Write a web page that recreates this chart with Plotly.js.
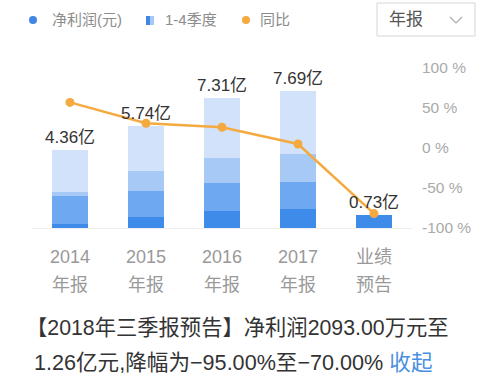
<!DOCTYPE html>
<html>
<head>
<meta charset="utf-8">
<script src="https://cdn.plot.ly/plotly-3.0.1.min.js"></script>
<style>
  html, body { margin: 0; padding: 0; background: #fff; }
  #chart { width: 500px; height: 381px; }
</style>
</head>
<body>
<div id="chart"></div>
<script>
// ---- data ----
const categories = ['2014', '2015', '2016', '2017', '业绩'];
const categoryLine2 = ['年报', '年报', '年报', '年报', '预告'];
const q1 = [0.22, 0.62, 0.96, 1.07, 0.73];
const q2 = [1.58, 1.46, 1.58, 1.52, null];
const q3 = [0.24, 1.13, 1.41, 1.58, null];
const q4 = [2.32, 2.53, 3.36, 3.52, null];
const totals = [4.36, 5.74, 7.31, 7.69, 0.73];
const growth = [57, 31, 26, 5, -82];
const rightTickVals = [100, 50, 0, -50, -100];
const rightTickText = ['100 %', '50 %', '0 %', '-50 %', '-100 %'];
const legendLabels = ['净利润(元)', '1-4季度', '同比'];
const dropdownLabel = '年报';
const noteLine1 = '【2018年三季报预告】净利润2093.00万元至';
const noteLine2 = '1.26亿元,降幅为−95.00%至−70.00% ';
const noteLink = '收起';

// ---- styling ----
const FONT = 'Liberation Sans, Arial, "Noto Sans CJK SC", sans-serif';
const qColors = ['#3f8be9', '#6ea8f0', '#a6c9f5', '#d1e2fa'];
const lineColor = '#f5aa40';

// pixel helpers (plot area: x 32..412, y 68..228)
const L = 32, R = 412, T = 68, B = 228;
const px = x => (x - L) / (R - L);
const py = y => (B - y) / (B - T);

const barW = 0.47;
const mkBar = (vals, color) => ({
  type: 'bar', x: categories, y: vals, width: barW,
  marker: { color: color, line: { width: 0 } },
  hoverinfo: 'skip', yaxis: 'y'
});

const traces = [
  mkBar(q1, qColors[0]),
  mkBar(q2, qColors[1]),
  mkBar(q3, qColors[2]),
  mkBar(q4, qColors[3]),
  {
    type: 'scatter', mode: 'lines+markers', x: categories, y: growth,
    yaxis: 'y2', line: { color: lineColor, width: 2.5 },
    marker: { color: lineColor, size: 9 }, hoverinfo: 'skip'
  }
];

const annotations = [];
// totals above bars (category index used as x position on the category axis)
categories.forEach((c, i) => {
  annotations.push({
    x: i, y: totals[i], xref: 'x', yref: 'y', yanchor: 'bottom',
    text: totals[i].toFixed(2) + '亿', showarrow: false, yshift: 1,
    font: { family: FONT, size: 17, color: '#333' }
  });
  annotations.push({
    x: i, y: py(285), xref: 'x', yref: 'paper', yanchor: 'middle',
    text: categoryLine2[i], showarrow: false,
    font: { family: FONT, size: 18, color: '#999' }
  });
});
// legend texts
const legendX = [50, 163, 258];
legendLabels.forEach((t, i) => {
  annotations.push({
    x: px(legendX[i]), y: py(20), xref: 'paper', yref: 'paper',
    xanchor: 'left', yanchor: 'middle', text: t, showarrow: false,
    font: { family: FONT, size: 15, color: '#8c8c8c' }
  });
});
// dropdown label
annotations.push({
  x: px(387), y: py(20), xref: 'paper', yref: 'paper',
  xanchor: 'left', yanchor: 'middle', text: dropdownLabel, showarrow: false,
  font: { family: FONT, size: 17, color: '#555' }
});
// bottom note
annotations.push({
  x: px(24), y: py(328), xref: 'paper', yref: 'paper',
  xanchor: 'left', yanchor: 'middle', text: noteLine1, showarrow: false,
  font: { family: FONT, size: 21.3, color: '#333' }
});
annotations.push({
  x: px(32), y: py(362), xref: 'paper', yref: 'paper',
  xanchor: 'left', yanchor: 'middle',
  text: noteLine2 + '<span style="color:#4a8fe0">' + noteLink + '</span>',
  showarrow: false,
  font: { family: FONT, size: 21.6, color: '#333' }
});

const shapes = [
  // legend blue dot
  { type: 'circle', xref: 'paper', yref: 'paper',
    x0: px(29), x1: px(37), y0: py(24), y1: py(16),
    fillcolor: '#3f86e6', line: { width: 0 } },
  // legend gradient rect (two halves)
  { type: 'rect', xref: 'paper', yref: 'paper',
    x0: px(146), x1: px(150), y0: py(25), y1: py(16),
    fillcolor: '#3f86e6', line: { width: 0 } },
  { type: 'rect', xref: 'paper', yref: 'paper',
    x0: px(150), x1: px(154), y0: py(25), y1: py(16),
    fillcolor: '#a6c9f5', line: { width: 0 } },
  // legend orange dot
  { type: 'circle', xref: 'paper', yref: 'paper',
    x0: px(242), x1: px(250), y0: py(24), y1: py(16),
    fillcolor: lineColor, line: { width: 0 } },
  // dropdown box
  { type: 'rect', xref: 'paper', yref: 'paper',
    x0: px(377), x1: px(475), y0: py(36), y1: py(3),
    fillcolor: 'rgba(0,0,0,0)', line: { color: '#d6d6d6', width: 1 } },
  // chevron
  { type: 'path', xref: 'paper', yref: 'paper',
    path: 'M ' + px(450) + ' ' + py(17) + ' L ' + px(456) + ' ' + py(23) + ' L ' + px(462) + ' ' + py(17),
    line: { color: '#aaa', width: 1.2 } }
];

const layout = {
  width: 500, height: 381,
  margin: { l: L, r: 500 - R, t: T, b: 381 - B, pad: 0 },
  paper_bgcolor: '#fff', plot_bgcolor: '#fff',
  barmode: 'stack', showlegend: false,
  font: { family: FONT },
  xaxis: {
    type: 'category', range: [-0.5, 4.5], fixedrange: true,
    tickvals: categories, ticktext: categories,
    tickfont: { family: FONT, size: 18, color: '#999' },
    showgrid: false, zeroline: false, showline: true, linecolor: '#eeeeee', linewidth: 1,
    ticks: '', ticklabelstandoff: 12
  },
  yaxis: {
    range: [0, 9], showgrid: false, zeroline: false, showticklabels: false,
    fixedrange: true
  },
  yaxis2: {
    overlaying: 'y', side: 'right', range: [-100, 100],
    tickvals: rightTickVals, ticktext: rightTickText,
    tickfont: { family: FONT, size: 15.5, color: '#aaa' },
    showgrid: false, zeroline: false, showline: false, ticks: '',
    ticklabelstandoff: 9, fixedrange: true
  },
  annotations: annotations,
  shapes: shapes
};

Plotly.newPlot('chart', traces, layout, { displayModeBar: false, staticPlot: true });
</script>
</body>
</html>
